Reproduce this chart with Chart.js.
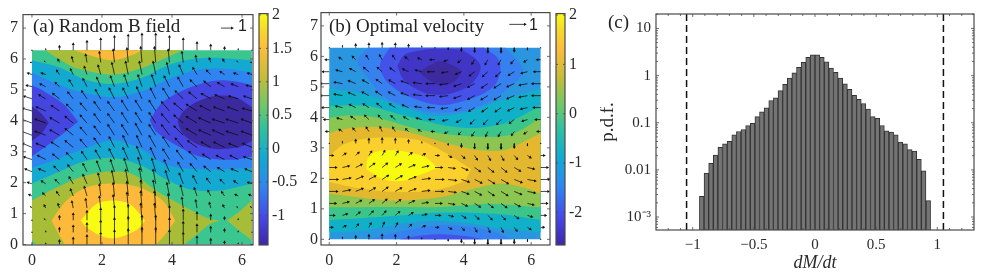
<!DOCTYPE html>
<html>
<head>
<meta charset="utf-8">
<script src="https://cdn.jsdelivr.net/npm/chart.js@4/dist/chart.umd.min.js"></script>
<style>
html, body { margin: 0; padding: 0; background: #fff; width: 987px; height: 272px; overflow: hidden; }
canvas { position: absolute; top: 0; }
.lbl { position: absolute; font-family: "Liberation Serif", serif; color: #222; white-space: nowrap; line-height: 1; }
.key { position: absolute; font-family: "Liberation Sans", sans-serif; color: #222; line-height: 1; }
</style>
</head>
<body>
<canvas id="panelA" width="257" height="272" style="left:0"></canvas>
<canvas id="barA" width="45" height="272" style="left:255px"></canvas>
<canvas id="panelB" width="254" height="272" style="left:300px"></canvas>
<canvas id="barB" width="45" height="272" style="left:552px"></canvas>
<canvas id="panelC" width="387" height="272" style="left:600px"></canvas>
<div class="lbl" style="left:33px;top:16px;font-size:19px">(a) Random B field</div>
<div class="key" style="left:238px;top:18px;font-size:16px">1</div>
<div class="lbl" style="left:329px;top:16px;font-size:19px">(b) Optimal velocity</div>
<div class="key" style="left:529px;top:17px;font-size:16px">1</div>
<div class="lbl" style="left:608px;top:12px;font-size:19px">(c)</div>
<script>
// --- colores ---
const AXIS = '#4a4a4a';
const TEXT = '#2a2a2a';
const FONT = '"Liberation Serif", serif';
const parula = [[0, '#3e26a8'], [.12, '#4648ea'], [.25, '#2f85f2'], [.38, '#0fabd3'], [.5, '#2fc0a0'],
  [.6, '#6cc86a'], [.72, '#c2bc3a'], [.85, '#fdbd3c'], [.93, '#f6d92a'], [1, '#f9fb14']];

// --- panel (a): contornos, en unidades de datos ---
const aBase = [[0, 0], [6.28, 0], [6.28, 6.28], [0, 6.28]];
const aCyan = [[0, 5.96], [.8, 5.72], [1.55, 5.32], [2.31, 5.19], [3.17, 5.4], [3.83, 5.77], [4.49, 5.98], [5.16, 6.04], [6.28, 5.96],
  [6.28, 1.97], [5.35, 1.74], [4.49, 1.79], [3.83, 2.11], [3.07, 2.58], [2.31, 2.8], [1.55, 2.71], [.8, 2.37], [0, 1.97]];
const aBlue = [[0, 5.57], [.51, 5.29], [1.27, 4.97], [2.31, 4.76], [3.17, 4.97], [4.02, 5.4], [4.78, 5.66], [5.54, 5.68], [6.28, 5.57],
  [6.28, 2.48], [5.54, 2.43], [4.78, 2.43], [3.83, 2.58], [3.07, 3.12], [2.31, 3.38], [1.55, 3.12], [.8, 2.8], [0, 2.48]];
const aVioletL = [[0, 5.16], [.32, 4.97], [.89, 4.55], [1.32, 3.97], [1.32, 3.97], [.89, 3.59], [.51, 3.27], [0, 2.85]];
const aVioletR = [[3.36, 4.02], [3.36, 4.02], [3.73, 4.6], [4.4, 5.03], [5.16, 5.29], [5.73, 5.29], [6.28, 5.16], [6.28, 2.85], [5.73, 2.74], [4.78, 2.85], [4.11, 3.22], [3.55, 3.65], [3.36, 4.02]];
const aDarkL = [[0, 4.47], [.27, 4.23], [.48, 3.94], [.48, 3.94], [.27, 3.59], [0, 3.35]];
const aDarkR = [[4.16, 3.97], [4.16, 3.97], [4.3, 4.28], [4.68, 4.6], [5.25, 4.81], [5.82, 4.76], [6.28, 4.44], [6.28, 3.35], [5.91, 3.15], [5.25, 3.09], [4.68, 3.27], [4.3, 3.59], [4.16, 3.97]];
const aOlive = [[0, 1.42], [.7, 1.84], [1.46, 2.21], [2.31, 2.37], [2.88, 2.27], [3.55, 1.74], [4.4, 1.2], [5.06, .83], [5.35, .78], [5.35, .78], [5.06, .65], [4.68, .3], [4.35, 0], [.13, 0], [0, .14]];
const aOliveIsle = [[5.58, .78], [5.58, .78], [5.91, 1.05], [6.28, 1.42], [6.28, .14], [5.91, .46], [5.58, .78]];
const aOliveTop = [[.37, 6.28], [.8, 5.98], [1.22, 5.72], [2.31, 5.5], [3.17, 5.72], [3.83, 6.04], [4.3, 6.28]];
const aOrange = [[.56, .78], [.56, .78], [.99, 1.42], [1.55, 1.84], [2.31, 1.97], [3.07, 1.84], [3.73, 1.42], [4.09, .78], [4.09, .78], [3.83, .36], [3.55, 0], [.94, 0], [.75, .36], [.56, .78]];
const aOrangeTop = [[1.22, 6.28], [1.74, 6.09], [2.31, 5.96], [2.88, 6.14], [3.17, 6.28]];
const aYellow = [[1.39, .78], [1.39, .78], [1.84, 1.31], [2.31, 1.42], [2.79, 1.31], [3.23, .78], [3.23, .78], [2.98, .46], [2.36, .2], [1.93, .3], [1.55, .57], [1.39, .78]];

// --- panel (b): contornos ---
const bBase = aBase;
const bBlueTop = [[1.15, 6.28], [.83, 5.84], [1.15, 5.3], [1.65, 4.65], [2.63, 4.27], [3.22, 4.16], [4.01, 4.21], [4.8, 4.54], [5.39, 5.03], [5.78, 5.52], [5.24, 6.28]];
const bVioletTop = [[1.79, 6.28], [1.5, 5.68], [1.74, 5.14], [2.33, 4.7], [3.32, 4.4], [4.31, 4.65], [4.9, 5.03], [5.09, 5.52], [5, 5.95], [4.6, 6.28]];
const bIndigo = [[2.02, 5.68], [2.24, 6.06], [2.83, 6.22], [3.27, 6.25], [4.01, 6.17], [4.5, 5.68], [4.21, 5.08], [3.52, 4.76], [2.83, 4.81], [2.24, 5.19], [2.02, 5.68]];
const bDark = [[2.68, 5.49], [3.02, 5.73], [3.32, 5.84], [3.91, 5.52], [3.67, 5.14], [3.22, 5.08], [2.93, 5.24], [2.68, 5.49]];
const bTeal = [[0, 4.95], [1.1, 4.76], [2.09, 4.38], [3.07, 4.05], [4.06, 4.16], [5.04, 4.54], [6.28, 4.95],
  [6.28, .22], [5.04, .36], [4.06, .54], [3.07, .61], [2.09, .5], [1.1, .3], [0, .22]];
const bGreen = [[0, 4.38], [1.1, 4.38], [2.09, 4.1], [3.32, 3.76], [4.31, 3.65], [5.29, 3.83], [6.28, 4.38],
  [6.28, .63], [5.04, .83], [3.37, .88], [1.6, .74], [0, .63]];
const bLime = [[0, 3.98], [.61, 4.07], [1.35, 4], [2.83, 3.56], [4.31, 3.37], [5.39, 3.43], [6.28, 3.98],
  [6.28, 1.05], [4.8, 1.17], [3.32, 1.06], [1.84, 1.06], [0, 1.05]];
const bGold = [[0, 3.48], [.61, 3.65], [1.6, 3.67], [2.58, 3.45], [3.57, 3.13], [4.45, 2.93], [5.14, 2.91], [5.54, 3.07], [6.28, 3.48],
  [6.28, 1.5], [5.78, 1.7], [5.09, 1.83], [4.31, 1.67], [3.32, 1.39], [1.84, 1.27], [0, 1.5]];
const bAmber = [[0, 2.74], [.46, 3.13], [1.35, 3.33], [2.63, 3.26], [3.42, 2.86], [4.21, 2.31], [4.21, 2.31], [4.01, 1.93], [3.12, 1.61], [1.84, 1.56], [.66, 1.72], [0, 1.88]];
const bYellow = [[1.1, 2.31], [1.13, 2.61], [1.35, 2.86], [1.99, 2.91], [2.83, 2.71], [3.22, 2.35], [3.22, 2.35], [2.78, 2.15], [2.14, 1.91], [1.55, 1.99], [1.1, 2.31]];
const bBlueLow = [[1.15, 0], [1.65, .14], [2.58, .36], [3.32, .47], [4.16, .41], [4.8, .28], [5.44, 0]];
const bVioletLow = [[2.09, 0], [2.78, .13], [3.37, .17], [4.06, .11], [4.6, 0]];

const contoursA = [[aBase, '#3cc68f'], [aCyan, '#14a9d0'], [aBlue, '#2e85f0'], [aVioletL, '#4545e0'], [aVioletR, '#4545e0'],
  [aDarkL, '#3b2a9e'], [aDarkR, '#3b2a9e'], [aOlive, '#a7bd37'], [aOliveIsle, '#a7bd37'], [aOliveTop, '#a7bd37'],
  [aOrange, '#fcb93a'], [aOrangeTop, '#fcb93a'], [aYellow, '#f9fb14']];
const contoursB = [[bBase, '#2b96e0'], [bBlueTop, '#3680ef'], [bVioletTop, '#4452ea'], [bIndigo, '#4035c4'], [bDark, '#3d2a9e'],
  [bTeal, '#0fb0c8'], [bGreen, '#3bc58a'], [bLime, '#8cc550'], [bGold, '#e3b82f'], [bAmber, '#fbd02c'], [bYellow, '#f8fa10'],
  [bBlueLow, '#3680ef'], [bVioletLow, '#4452ea']];

// --- flechas: filas de y=0 a y=2pi, columnas de x=0 a x=2pi ---
const gridStep = .3927;
const uA = [
  [0,0,0,0,0,0,0,0,0,0,0,0,0,0,0,0,0],
  [0,0,0,0,0,0,0,0,0,0,0,0,0,0,0,0,0],
  [0,-.1,0,0,0,0,0,0,-.1,-.1,0,0,0,0,0,0,0],
  [-.1,-.1,-.1,-.1,-.1,-.1,-.1,-.1,-.1,-.1,-.1,-.1,-.1,-.1,-.1,-.1,-.1],
  [-.2,-.2,-.2,-.2,-.2,-.1,-.1,-.1,-.1,-.2,-.2,-.2,-.2,-.2,-.2,-.2,-.2],
  [-.3,-.3,-.3,-.3,-.3,-.2,-.2,-.2,-.2,-.2,-.3,-.3,-.3,-.3,-.3,-.3,-.3],
  [-.5,-.5,-.4,-.4,-.3,-.3,-.3,-.3,-.3,-.3,-.4,-.4,-.5,-.5,-.5,-.5,-.5],
  [-.6,-.6,-.5,-.5,-.4,-.4,-.4,-.4,-.4,-.4,-.5,-.5,-.6,-.6,-.6,-.6,-.6],
  [-.7,-.7,-.6,-.6,-.5,-.5,-.4,-.4,-.4,-.5,-.5,-.6,-.7,-.7,-.8,-.7,-.7],
  [-.8,-.8,-.7,-.6,-.5,-.5,-.5,-.5,-.5,-.5,-.6,-.7,-.8,-.9,-.9,-.9,-.8],
  [-.8,-.8,-.7,-.6,-.5,-.5,-.5,-.5,-.5,-.5,-.6,-.7,-.8,-.9,-.9,-.9,-.8],
  [-.7,-.7,-.6,-.5,-.5,-.5,-.5,-.5,-.5,-.5,-.6,-.7,-.8,-.8,-.8,-.8,-.7],
  [-.6,-.5,-.5,-.4,-.4,-.4,-.4,-.4,-.4,-.4,-.5,-.6,-.6,-.7,-.7,-.7,-.6],
  [-.4,-.4,-.3,-.3,-.3,-.3,-.3,-.3,-.3,-.3,-.4,-.4,-.5,-.5,-.5,-.5,-.4],
  [-.3,-.3,-.2,-.2,-.2,-.2,-.2,-.2,-.2,-.2,-.2,-.3,-.3,-.3,-.3,-.3,-.3],
  [-.1,-.1,-.1,-.1,-.1,-.1,-.1,-.1,-.1,-.1,-.1,-.1,-.1,-.1,-.1,-.1,-.1],
  [0,0,0,0,0,0,0,0,0,0,0,0,0,0,0,0,0]
];
const vA = [
  [0,.1,.3,.5,.7,.9,1.1,1.2,1.3,1.3,1.1,.9,.6,.4,.2,.1,0],
  [0,.1,.3,.5,.7,.9,1.1,1.2,1.3,1.3,1.1,.8,.6,.4,.2,.1,0],
  [0,.1,.3,.5,.7,.9,1.1,1.2,1.3,1.3,1.1,.8,.6,.4,.2,.1,0],
  [.1,.2,.3,.5,.7,.9,1,1.2,1.3,1.3,1.1,.8,.6,.4,.2,.1,.1],
  [.1,.2,.3,.5,.7,.9,1,1.1,1.2,1.2,1,.8,.6,.4,.3,.1,.1],
  [.1,.2,.3,.5,.7,.8,1,1.1,1.2,1.1,1,.8,.6,.4,.3,.2,.1],
  [.2,.2,.4,.5,.6,.8,.9,1,1.1,1,.9,.7,.6,.4,.3,.2,.2],
  [.2,.3,.4,.5,.6,.7,.8,.9,1,.9,.8,.7,.6,.4,.3,.3,.2],
  [.3,.3,.4,.5,.6,.7,.8,.9,.9,.9,.8,.7,.5,.4,.4,.3,.3],
  [.3,.3,.4,.5,.6,.7,.8,.8,.9,.8,.8,.7,.5,.4,.4,.3,.3],
  [.3,.3,.4,.5,.6,.7,.7,.8,.8,.8,.7,.6,.5,.4,.3,.3,.3],
  [.2,.3,.4,.5,.6,.7,.7,.8,.8,.8,.7,.6,.5,.4,.3,.3,.2],
  [.2,.3,.4,.5,.6,.7,.8,.8,.9,.8,.8,.6,.5,.4,.3,.2,.2],
  [.1,.2,.3,.5,.6,.7,.8,.9,.9,.9,.8,.7,.5,.4,.3,.2,.1],
  [.1,.1,.3,.4,.6,.7,.9,1,1,1,.9,.7,.5,.3,.2,.1,.1],
  [0,.1,.2,.4,.6,.8,1,1.1,1.2,1.2,1,.8,.5,.3,.2,.1,0],
  [0,.1,.3,.5,.7,.9,1.1,1.2,1.3,1.3,1.1,.9,.6,.4,.2,.1,0]
];
const uB = [
  [0,0,0,0,0,0,0,0,0,0,0,0,0,0,0,0,0],
  [.3,.3,.25,.2,.2,.2,.25,.3,.3,.3,.25,.2,.2,.2,.25,.3,.3],
  [.5,.45,.4,.4,.35,.4,.4,.45,.5,.45,.4,.4,.4,.4,.4,.45,.5],
  [.65,.6,.55,.5,.45,.5,.55,.6,.65,.6,.55,.55,.5,.55,.55,.6,.65],
  [.8,.75,.7,.6,.55,.6,.7,.75,.8,.75,.7,.65,.6,.65,.7,.75,.8],
  [.85,.8,.7,.65,.6,.65,.7,.8,.85,.8,.75,.7,.65,.7,.75,.8,.85],
  [.7,.65,.6,.55,.5,.55,.6,.65,.7,.65,.6,.55,.55,.55,.6,.65,.7],
  [.35,.3,.3,.25,.25,.25,.3,.3,.35,.3,.3,.25,.25,.25,.3,.3,.35],
  [0,0,0,0,0,0,0,0,0,0,0,0,0,0,0,0,0],
  [-.3,-.3,-.25,-.25,-.2,-.25,-.25,-.3,-.3,-.3,-.25,-.25,-.2,-.25,-.25,-.3,-.3],
  [-.5,-.5,-.45,-.4,-.35,-.4,-.45,-.5,-.55,-.5,-.45,-.4,-.4,-.4,-.45,-.5,-.5],
  [-.7,-.65,-.6,-.55,-.5,-.55,-.6,-.65,-.7,-.65,-.6,-.55,-.55,-.55,-.6,-.65,-.7],
  [-.85,-.8,-.7,-.65,-.6,-.65,-.7,-.8,-.85,-.8,-.7,-.65,-.65,-.65,-.7,-.8,-.85],
  [-.85,-.8,-.7,-.6,-.55,-.6,-.7,-.8,-.85,-.8,-.7,-.65,-.6,-.65,-.7,-.8,-.85],
  [-.65,-.6,-.55,-.5,-.45,-.5,-.55,-.6,-.7,-.6,-.55,-.5,-.5,-.5,-.55,-.6,-.65],
  [-.35,-.3,-.3,-.25,-.25,-.25,-.3,-.35,-.45,-.35,-.3,-.25,-.25,-.25,-.3,-.3,-.35],
  [0,0,0,0,0,0,0,0,0,0,0,0,0,0,0,0,0]
];
const vB = [
  [0,.2,.3,.4,.45,.4,.25,.15,0,-.15,-.25,-.4,-.45,-.45,-.35,-.2,0],
  [0,.15,.3,.4,.45,.4,.25,.15,0,-.15,-.25,-.4,-.45,-.45,-.35,-.2,0],
  [0,.15,.3,.4,.4,.35,.25,.1,0,-.1,-.25,-.35,-.4,-.4,-.3,-.15,0],
  [0,.15,.3,.35,.4,.35,.25,.1,0,-.1,-.25,-.35,-.4,-.4,-.3,-.15,0],
  [0,.15,.3,.35,.4,.35,.25,.1,0,-.1,-.25,-.35,-.4,-.4,-.3,-.15,0],
  [0,.15,.3,.35,.4,.35,.25,.1,0,-.1,-.25,-.35,-.4,-.4,-.3,-.15,0],
  [0,.15,.3,.4,.4,.35,.25,.15,0,-.1,-.25,-.4,-.45,-.45,-.35,-.15,0],
  [0,.2,.3,.4,.45,.4,.25,.15,0,-.15,-.25,-.4,-.45,-.45,-.35,-.2,0],
  [0,.2,.35,.45,.5,.45,.3,.15,0,-.15,-.3,-.45,-.5,-.5,-.4,-.2,0],
  [0,.2,.3,.4,.45,.4,.25,.15,0,-.15,-.25,-.4,-.45,-.45,-.35,-.2,0],
  [0,.15,.3,.4,.4,.35,.25,.15,0,-.1,-.25,-.4,-.45,-.45,-.35,-.15,0],
  [0,.15,.3,.35,.4,.35,.25,.1,0,-.1,-.25,-.35,-.4,-.4,-.3,-.15,0],
  [0,.15,.3,.35,.4,.35,.25,.1,0,-.1,-.25,-.35,-.4,-.4,-.3,-.15,0],
  [0,.15,.3,.35,.4,.35,.25,.1,0,-.1,-.25,-.35,-.4,-.4,-.3,-.15,0],
  [0,.15,.3,.4,.4,.35,.25,.15,0,-.1,-.25,-.4,-.45,-.45,-.35,-.15,0],
  [0,.2,.3,.4,.45,.4,.25,.15,0,-.15,-.25,-.4,-.45,-.45,-.35,-.2,0],
  [0,.2,.3,.4,.45,.4,.25,.15,0,-.15,-.25,-.4,-.45,-.45,-.35,-.2,0]
];

// --- ticks ---
const fieldXTicks = [0, 2, 4, 6];
const fieldYTicks = [0, 1, 2, 3, 4, 5, 6, 7];
const barATicks = [2, 1.5, 1, .5, 0, -.5, -1];
const barBTicks = [2, 1, 0, -1, -2];

// --- panel (c): histograma ---
const binCenters = [-.9261, -.8883, -.8505, -.8127, -.7749, -.7371, -.6993, -.6615, -.6237, -.5859, -.5481, -.5103, -.4725,
  -.4347, -.3969, -.3591, -.3213, -.2835, -.2457, -.2079, -.1701, -.1323, -.0945, -.0567, -.0189,
  .0189, .0567, .0945, .1323, .1701, .2079, .2457, .2835, .3213, .3591, .3969, .4347, .4725,
  .5103, .5481, .5859, .6237, .6615, .6993, .7371, .7749, .8127, .8505, .8883, .9261];
const binDensity = [.00275, .0085, .0137, .0205, .0302, .0355, .0404, .0556, .0653, .072, .0873, .0977, .1346,
  .1714, .208, .296, .3365, .48, .65, .883, 1.143, 1.5, 1.91, 2.43, 2.77,
  2.77, 2.43, 1.97, 1.45, 1.18, .883, .671, .512, .383, .315, .256, .195, .1346,
  .124, .0873, .0675, .0632, .0556, .0391, .0355, .027, .0249, .0167, .0095, .00223];
const cLimits = [-1.05, 1.05];
const cXTicks = [-1, -.5, 0, .5, 1];
const cXLabels = ['\u22121', '\u22120.5', '0', '0.5', '1'];
const cXMinor = [-1.2, -1.1, -.9, -.8, -.7, -.6, -.4, -.3, -.2, -.1, .1, .2, .3, .4, .6, .7, .8, .9, 1.1, 1.2];
const cYTicks = [10, 1, .1, .01, .001];
const cYLabels = ['10', '1', '0.1', '0.01', '10\u207B\u00B3'];
const cYMinor = [20, 9, 8, 7, 6, 5, 4, 3, 2, .9, .8, .7, .6, .5, .4, .3, .2, .09, .08, .07, .06, .05, .04, .03, .02,
  .009, .008, .007, .006, .005, .004, .003, .002, .0009, .0008, .0007, .0006];

// --- marco y ticks hacia adentro ---
const framePlugin = {
  id: 'frame',
  afterDatasetsDraw(chart, args, opts) {
    const { ctx, chartArea: a, scales } = chart;
    ctx.save();
    ctx.strokeStyle = AXIS;
    ctx.lineWidth = 1.2;
    ctx.strokeRect(a.left, a.top, a.width, a.height);
    ctx.lineWidth = .8;
    ctx.beginPath();
    const vert = (vals, len) => (vals || []).forEach(v => {
      const p = scales.x.getPixelForValue(v);
      ctx.moveTo(p, a.bottom); ctx.lineTo(p, a.bottom - len);
      ctx.moveTo(p, a.top); ctx.lineTo(p, a.top + len);
    });
    const horiz = (vals, len) => (vals || []).forEach(v => {
      const p = scales.y.getPixelForValue(v);
      ctx.moveTo(a.left, p); ctx.lineTo(a.left + len, p);
      ctx.moveTo(a.right, p); ctx.lineTo(a.right - len, p);
    });
    vert(opts.xTicks, 3); vert(opts.xMinor, 2);
    horiz(opts.yTicks, opts.yLen || 3); horiz(opts.yMinor, 2);
    ctx.stroke();
    ctx.restore();
  }
};

function tickFont(size) {
  return { family: FONT, size: size };
}

const noGrid = { display: false, drawTicks: false };

// --- contornos + quiver ---
function createField(id, cfg) {
  const pxX = cfg.areaW / (cfg.xMax - cfg.xMin);
  const pxY = cfg.areaH / (cfg.yMax - cfg.yMin);
  const sx = cfg.arrowPx / pxX;
  const sy = cfg.arrowPx / pxY;
  const shafts = [], tips = [], rot = [], rad = [];
  const addArrow = (x, y, u, v) => {
    const tip = { x: x + u * sx, y: y + v * sy };
    shafts.push({ x, y }, tip, { x: NaN, y: NaN });
    tips.push(tip);
    rot.push(Math.atan2(u, v) * 180 / Math.PI);
    rad.push(Math.hypot(u, v) * cfg.arrowPx < 2 ? 1 : 1.8);
  };
  cfg.u.forEach((row, j) => row.forEach((u, i) => addArrow(i * gridStep, j * gridStep, u, cfg.v[j][i])));
  addArrow(cfg.key[0], cfg.key[1], cfg.key[2], 0);

  // las esquinas sobre el borde se repiten para que la curva no se salga del campo
  const onEdge = ([x, y]) => x === 0 || x === 6.28 || y === 0 || y === 6.28;
  const n = cfg.contours.length;
  const datasets = cfg.contours.map(([pts, color], i) => ({
    data: pts.flatMap(p => onEdge(p) ? [p, p] : [p]).map(([x, y]) => ({ x, y })),
    showLine: true, fill: 'shape', backgroundColor: color, tension: .3,
    borderWidth: 0, pointRadius: 0, order: n - i + 2
  }));
  datasets.push({ data: shafts, showLine: true, borderColor: 'rgba(10,10,10,.85)', borderWidth: .9, pointRadius: 0, order: 2 });
  datasets.push({ data: tips, showLine: false, pointStyle: 'triangle', pointRadius: rad, pointRotation: rot,
    backgroundColor: '#111', borderWidth: 0, order: 1 });

  return new Chart(document.getElementById(id), {
    type: 'scatter',
    data: { datasets },
    plugins: [framePlugin],
    options: {
      responsive: false, animation: false, events: [],
      layout: { padding: cfg.padding },
      plugins: { legend: { display: false }, tooltip: { enabled: false },
        frame: { xTicks: fieldXTicks, yTicks: fieldYTicks } },
      scales: {
        x: { type: 'linear', min: cfg.xMin, max: cfg.xMax, grid: noGrid, border: { display: false },
          afterBuildTicks: s => { s.ticks = fieldXTicks.map(value => ({ value })); },
          afterFit: s => { s.height = 27; },
          ticks: { font: tickFont(16), color: TEXT, padding: 6, maxRotation: 0, autoSkip: false } },
        y: { type: 'linear', min: cfg.yMin, max: cfg.yMax, grid: noGrid, border: { display: false },
          afterBuildTicks: s => { s.ticks = fieldYTicks.map(value => ({ value })); },
          afterFit: s => { s.width = cfg.axisW; },
          ticks: { font: tickFont(16), color: TEXT, padding: cfg.tickPad, autoSkip: false } }
      }
    }
  });
}

// --- barra de color ---
function createColorbar(id, lo, hi, ticks) {
  return new Chart(document.getElementById(id), {
    type: 'bar',
    data: { labels: [''], datasets: [{
      data: [[lo, hi]], barPercentage: 1, categoryPercentage: 1,
      backgroundColor: c => {
        const a = c.chart.chartArea;
        if (!a) return '#888';
        const g = c.chart.ctx.createLinearGradient(0, a.bottom, 0, a.top);
        parula.forEach(([p, col]) => g.addColorStop(p, col));
        return g;
      }
    }] },
    plugins: [framePlugin],
    options: {
      responsive: false, animation: false, events: [],
      layout: { padding: { left: 4, right: 0, top: 11, bottom: 27 } },
      plugins: { legend: { display: false }, tooltip: { enabled: false }, frame: { yTicks: ticks, yLen: 2 } },
      scales: {
        x: { display: false },
        y: { position: 'right', min: lo, max: hi, grid: noGrid, border: { display: false },
          afterBuildTicks: s => { s.ticks = ticks.map(value => ({ value })); },
          afterFit: s => { s.width = 32; },
          ticks: { font: tickFont(16), color: TEXT, padding: 4, autoSkip: false, callback: v => String(v) } }
      }
    }
  });
}

// --- histograma ---
function createHistogram() {
  const yMin = 5.3e-4, yMax = 20.3;
  const limitLine = x => ({
    type: 'line', data: [{ x, y: yMin }, { x, y: yMax }], borderColor: '#111', borderWidth: 1.5,
    borderDash: [7, 4], pointRadius: 0, order: 0
  });
  return new Chart(document.getElementById('panelC'), {
    type: 'bar',
    data: { datasets: [
      { data: binCenters.map((x, i) => ({ x, y: binDensity[i] })), backgroundColor: '#747474', borderColor: '#333',
        borderWidth: 1, barPercentage: 1, categoryPercentage: 1, order: 1 },
      limitLine(cLimits[0]), limitLine(cLimits[1])
    ] },
    plugins: [framePlugin],
    options: {
      responsive: false, animation: false, events: [],
      layout: { padding: { left: 0, right: 13, top: 11, bottom: 0 } },
      plugins: { legend: { display: false }, tooltip: { enabled: false },
        frame: { xTicks: cXTicks, xMinor: cXMinor, yTicks: cYTicks, yMinor: cYMinor } },
      scales: {
        x: { type: 'linear', min: -1.3, max: 1.3, offset: false, grid: noGrid, border: { display: false },
          afterBuildTicks: s => { s.ticks = cXTicks.map(value => ({ value })); },
          afterFit: s => { s.height = 42; },
          title: { display: true, text: 'dM/dt', color: TEXT, padding: { top: 0, bottom: -2 },
            font: { family: FONT, size: 18, style: 'italic' } },
          ticks: { font: tickFont(15), color: TEXT, padding: 6, maxRotation: 0, autoSkip: false,
            callback: (v, i) => cXLabels[i] } },
        y: { type: 'logarithmic', min: yMin, max: yMax, grid: noGrid, border: { display: false },
          afterBuildTicks: s => { s.ticks = cYTicks.map(value => ({ value })); },
          afterFit: s => { s.width = 56; },
          title: { display: true, text: 'p.d.f.', color: TEXT, padding: { top: -3, bottom: 0 },
            font: { family: FONT, size: 19 } },
          ticks: { font: tickFont(15), color: TEXT, padding: 5, autoSkip: false,
            callback: (v, i) => cYLabels[i] } }
      }
    }
  });
}

createField('panelA', {
  contours: contoursA, u: uA, v: vA, arrowPx: 12.5, key: [5.4, 7, .88],
  xMin: -.256, xMax: 6.312, yMin: -.016, yMax: 7.436, areaW: 231, areaH: 234,
  axisW: 23, tickPad: 5, padding: { left: 0, right: 3, top: 11, bottom: 0 }
});
createColorbar('barA', -1.44, 2.02, barATicks);
createField('panelB', {
  contours: contoursB, u: uB, v: vB, arrowPx: 9.5, key: [5.35, 7.05, 1.65],
  xMin: -.246, xMax: 6.56, yMin: -.186, yMax: 7.436, areaW: 230, areaH: 234,
  axisW: 21, tickPad: 3, padding: { left: 0, right: 3, top: 11, bottom: 0 }
});
createColorbar('barB', -2.66, 2.03, barBTicks);
createHistogram();
</script>
</body>
</html>
